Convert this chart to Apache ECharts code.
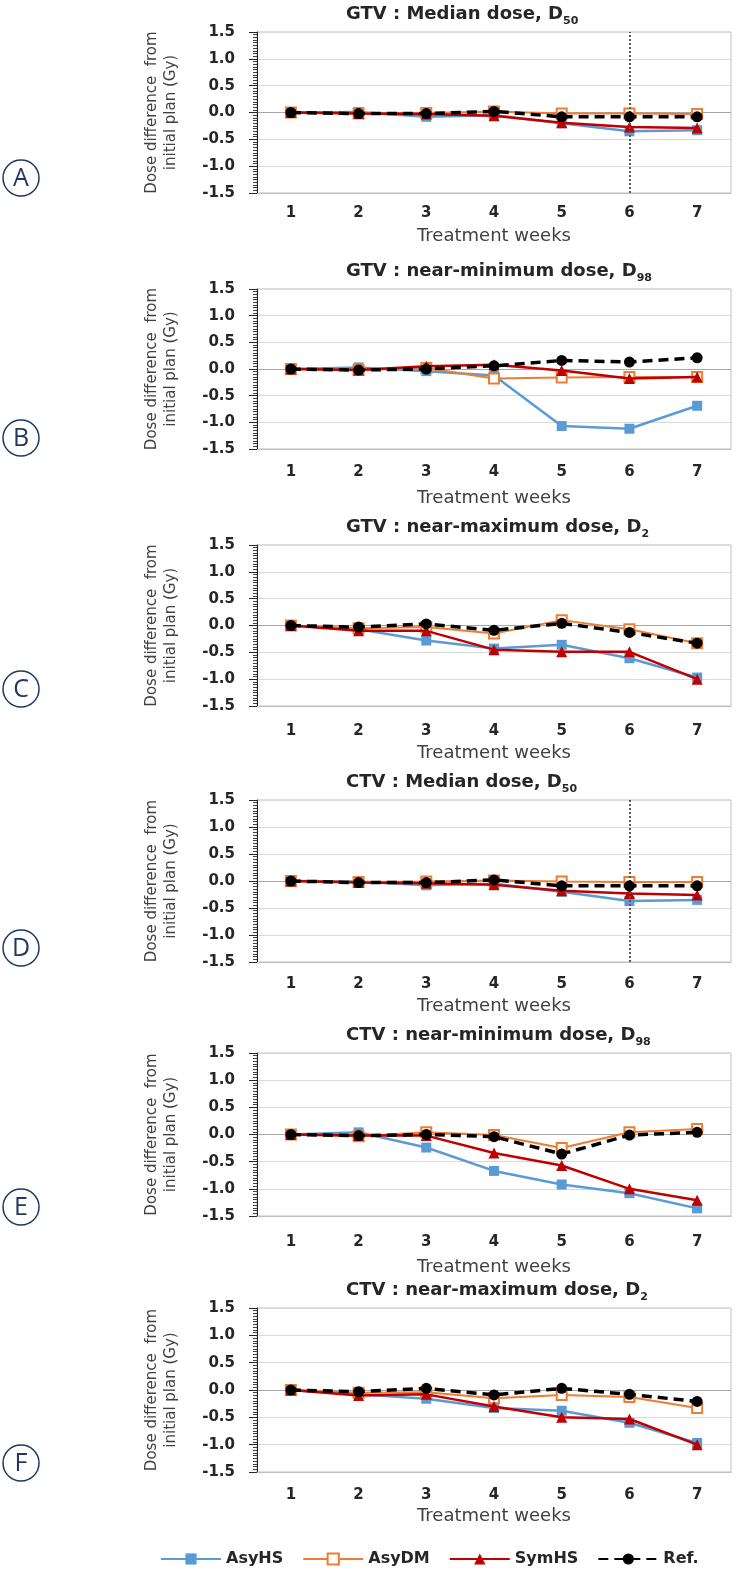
<!DOCTYPE html>
<html>
<head>
<meta charset="utf-8">
<script src="https://cdn.jsdelivr.net/npm/echarts@6/dist/echarts.min.js"></script>
<style>
html,body{margin:0;padding:0;background:#fff;}
#chart{width:736px;height:1576px;}
</style>
</head>
<body>
<div id="chart"></div>
<script>
// ---------- data ----------
const weeks = ['1', '2', '3', '4', '5', '6', '7'];
const seriesNames = ['AsyHS', 'AsyDM', 'SymHS', 'Ref.'];
const yTicks = [-1.5, -1.0, -0.5, 0.0, 0.5, 1.0, 1.5];

const panelLetters = ['A', 'B', 'C', 'D', 'E', 'F'];
const panelTitleMain = ['GTV : Median dose, D', 'GTV : near-minimum dose, D', 'GTV : near-maximum dose, D',
                        'CTV : Median dose, D', 'CTV : near-minimum dose, D', 'CTV : near-maximum dose, D'];
const panelTitleSub = ['50', '98', '2', '50', '98', '2'];
const markedWeek = ['6', null, null, '6', null, null];

// A: GTV D50
const asyHS_A = [0, 0.01, -0.08, -0.05, -0.20, -0.35, -0.33];
const asyDM_A = [0, -0.02, -0.01, 0.02, -0.02, -0.02, -0.03];
const symHS_A = [0, -0.02, -0.03, -0.06, -0.19, -0.27, -0.29];
const ref_A   = [0, -0.02, -0.02, 0.02, -0.08, -0.08, -0.08];
// B: GTV D98
const asyHS_B = [0, 0.03, -0.04, -0.12, -1.07, -1.12, -0.69];
const asyDM_B = [0, -0.02, 0.02, -0.18, -0.16, -0.15, -0.15];
const symHS_B = [0, -0.02, 0.05, 0.08, -0.03, -0.18, -0.15];
const ref_B   = [0, -0.02, 0.00, 0.06, 0.16, 0.13, 0.21];
// C: GTV D2
const asyHS_C = [0, -0.07, -0.28, -0.43, -0.36, -0.61, -0.97];
const asyDM_C = [0, -0.05, -0.03, -0.15, 0.10, -0.07, -0.33];
const symHS_C = [0, -0.10, -0.10, -0.45, -0.49, -0.49, -1.00];
const ref_C   = [0, -0.03, 0.03, -0.09, 0.04, -0.13, -0.33];
// D: CTV D50
const asyHS_D = [0, -0.01, -0.08, -0.05, -0.20, -0.37, -0.35];
const asyDM_D = [0, -0.02, -0.01, 0.01, -0.01, -0.02, -0.02];
const symHS_D = [0, -0.03, -0.04, -0.07, -0.18, -0.23, -0.26];
const ref_D   = [0, -0.03, -0.03, 0.02, -0.09, -0.09, -0.09];
// E: CTV D98
const asyHS_E = [0, 0.04, -0.24, -0.67, -0.92, -1.08, -1.36];
const asyDM_E = [0, -0.03, 0.04, -0.01, -0.25, 0.04, 0.10];
const symHS_E = [0, -0.02, -0.02, -0.34, -0.57, -1.00, -1.21];
const ref_E   = [0, -0.02, 0.00, -0.04, -0.36, -0.01, 0.04];
// F: CTV D2
const asyHS_F = [0, -0.08, -0.16, -0.33, -0.38, -0.60, -0.97];
const asyDM_F = [0, -0.05, -0.04, -0.15, -0.09, -0.13, -0.33];
const symHS_F = [0, -0.10, -0.08, -0.30, -0.50, -0.53, -1.00];
const ref_F   = [0, -0.03, 0.03, -0.09, 0.03, -0.08, -0.21];

const panelData = [
  [asyHS_A, asyDM_A, symHS_A, ref_A],
  [asyHS_B, asyDM_B, symHS_B, ref_B],
  [asyHS_C, asyDM_C, symHS_C, ref_C],
  [asyHS_D, asyDM_D, symHS_D, ref_D],
  [asyHS_E, asyDM_E, symHS_E, ref_E],
  [asyHS_F, asyDM_F, symHS_F, ref_F]
];

// ---------- layout ----------
const layout = {
  tops:    [32, 289, 545, 800, 1053, 1308],
  bottoms: [193, 449, 706, 962, 1216, 1472],
  letterY: [178, 438, 689, 948, 1207, 1463],
  labelMargin: [13, 16, 18, 15, 19, 16],
  nameGap: [34, 40, 38, 35, 42, 35],
  left: 257, right: 5, titleLeft: 341
};
const FONT = '"DejaVu Sans", sans-serif';
const TXT = '#262626';

const seriesStyles = [
  {color: '#5b9bd5', symbol: 'rect', symbolSize: 10, width: 2.5, type: 'solid'},
  {color: '#ed7d31', symbol: 'emptyRect', symbolSize: 10, width: 2, type: 'solid'},
  {color: '#c00000', symbol: 'triangle', symbolSize: 11, width: 2.5, type: 'solid'},
  {color: '#000000', symbol: 'circle', symbolSize: 11, width: 3.5, type: [10, 6]}
];

const splitColors = yTicks.map(v => v === 0 ? '#a6a6a6' : '#d9d9d9');

const grids = [], xAxes = [], yAxes = [], series = [], titles = [], graphics = [];

panelData.forEach((pd, i) => {
  const top = layout.tops[i], bottom = layout.bottoms[i];
  grids.push({
    left: layout.left, right: layout.right, top: top, height: bottom - top,
    show: true, borderColor: '#bfbfbf', borderWidth: 1, backgroundColor: '#fff'
  });
  xAxes.push({
    type: 'category', gridIndex: i, data: weeks, boundaryGap: true,
    axisLine: {onZero: false, lineStyle: {color: '#bfbfbf', width: 1}},
    axisTick: {show: false},
    axisLabel: {fontFamily: FONT, fontWeight: 'bold', fontSize: 15, color: TXT, margin: layout.labelMargin[i]},
    name: 'Treatment weeks', nameLocation: 'middle', nameGap: layout.nameGap[i],
    nameTextStyle: {fontFamily: FONT, fontSize: 18, color: '#404040'},
    splitLine: {show: false}
  });
  yAxes.push({
    type: 'value', gridIndex: i, min: -1.5, max: 1.5, interval: 0.5,
    axisLine: {show: true, lineStyle: {color: TXT, width: 1}},
    axisTick: {show: true, length: 8, lineStyle: {color: TXT}},
    minorTick: {show: true, splitNumber: 10, length: 4, lineStyle: {color: '#404040'}},
    axisLabel: {fontFamily: FONT, fontWeight: 'bold', fontSize: 15, color: TXT, margin: 22,
                formatter: v => v.toFixed(1)},
    splitLine: {show: true, lineStyle: {color: splitColors, width: 1}},
    name: 'Dose difference  from\ninitial plan (Gy)', nameLocation: 'middle', nameGap: 76, nameRotate: 90,
    nameTextStyle: {fontFamily: FONT, fontSize: 15, color: '#404040', lineHeight: 19}
  });
  pd.forEach((vals, k) => {
    const st = seriesStyles[k];
    const s = {
      name: seriesNames[k], type: 'line', xAxisIndex: i, yAxisIndex: i,
      data: vals, symbol: st.symbol, symbolSize: st.symbolSize,
      lineStyle: {color: st.color, width: st.width, type: st.type},
      itemStyle: {color: st.color, borderColor: st.color, borderWidth: k === 1 ? 1.5 : 0},
      z: 2 + k
    };
    if (k === 3 && markedWeek[i]) {
      s.markLine = {
        silent: true, symbol: 'none', label: {show: false},
        lineStyle: {type: 'dotted', color: '#595959', width: 2},
        data: [{xAxis: markedWeek[i]}]
      };
    }
    series.push(s);
  });
  titles.push({
    left: layout.titleLeft, top: top - 32,
    text: '{m|' + panelTitleMain[i] + '}{s|' + panelTitleSub[i] + '}',
    textStyle: {
      rich: {
        m: {fontFamily: FONT, fontSize: 18, fontWeight: 'bold', color: TXT, verticalAlign: 'bottom', padding: [0, 0, 4, 0]},
        s: {fontFamily: FONT, fontSize: 11, fontWeight: 'bold', color: TXT, verticalAlign: 'bottom'}
      }
    }
  });
  graphics.push({
    type: 'circle', shape: {cx: 21, cy: layout.letterY[i], r: 18},
    style: {fill: 'none', stroke: '#1f3864', lineWidth: 1.5}
  });
  graphics.push({
    type: 'text', x: 21, y: layout.letterY[i] + 1,
    style: {text: panelLetters[i], fill: '#1f3864', font: '25px "Open Sans", sans-serif', align: 'center', verticalAlign: 'middle'}
  });
});

const chart = echarts.init(document.getElementById('chart'), null, {renderer: 'canvas'});
chart.setOption({
  animation: false,
  backgroundColor: '#fff',
  title: titles,
  grid: grids,
  xAxis: xAxes,
  yAxis: yAxes,
  legend: {
    data: seriesNames, left: 155, top: 1546, itemWidth: 60, itemHeight: 14, itemGap: 19,
    textStyle: {fontFamily: FONT, fontWeight: 'bold', fontSize: 16, color: TXT}
  },
  graphic: graphics,
  series: series
});
</script>
</body>
</html>
